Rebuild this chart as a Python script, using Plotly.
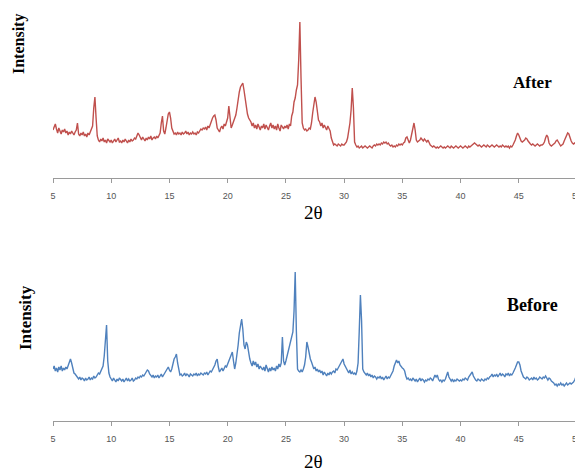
import plotly.graph_objects as go

# 2-theta sampling: start 5.0 deg, step 0.1 deg, up to 50.0 deg
theta_start = 5.0
theta_step = 0.1

after_intensity = [
    48, 52, 54, 49, 45, 50, 47, 44, 48, 46,
    49, 45, 47, 43, 46, 44, 47, 45, 43, 46,
    48, 55, 44, 42, 45, 43, 46, 42, 44, 41,
    45, 43, 46, 48, 52, 70, 81, 60, 42, 38,
    36, 39, 37, 40, 36, 38, 35, 39, 37, 36,
    38, 35, 37, 39, 36, 38, 40, 36, 37, 35,
    38, 36, 39, 37, 35, 38, 36, 39, 37, 38,
    40, 39, 42, 45, 43, 40, 38, 41, 39, 37,
    40, 38, 41, 39, 42, 38, 40, 41, 39, 42,
    40, 43, 45, 55, 62, 47, 44, 50, 58, 64,
    66, 60, 50, 46, 44, 45, 43, 46, 44, 45,
    43, 46, 44, 45, 47, 44, 46, 43, 45, 44,
    46, 44, 45, 43, 46, 45, 47, 49, 48, 50,
    49, 51, 48, 52, 50, 54, 57, 60, 62, 63,
    58, 50, 48, 46, 50, 52, 49, 54, 52, 56,
    60, 72, 58, 50, 53, 56, 58, 63, 70, 80,
    86, 91, 94, 95, 88, 78, 68, 64, 60, 58,
    56, 52, 55, 50, 53, 49, 54, 51, 48, 52,
    50, 54, 49, 53, 51, 48, 52, 55, 50, 53,
    49, 52, 48, 54, 50, 47, 53, 51, 49, 52,
    50, 53, 49, 54, 52, 62, 66, 76, 80, 88,
    93, 118, 156, 100, 55, 50, 48, 49, 47, 48,
    50, 49, 55, 65, 76, 81, 76, 64, 58, 56,
    52, 55, 50, 53, 51, 48, 52, 50, 47, 40,
    35, 33, 34, 33, 32, 34, 33, 32, 34, 33,
    33, 35, 36, 40, 46, 55, 68, 90, 70, 36,
    33, 31, 32, 30, 31, 32, 30, 31, 32, 31,
    30, 31, 32, 31, 30, 32, 33, 32, 34, 33,
    34, 33, 35, 34, 36, 35, 36, 34, 35, 33,
    32, 33, 31, 32, 31, 33, 32, 34, 33, 34,
    33, 35, 36, 40, 41, 38, 35, 38, 45, 52,
    55, 48, 38, 36, 37, 38, 40, 38, 37, 39,
    37, 36, 38, 35, 33, 32, 31, 32, 31, 30,
    31, 30, 31, 32, 31, 30, 31, 30, 31, 32,
    31, 30, 32, 31, 30, 31, 32, 31, 30, 31,
    32, 31, 30, 31, 32, 31, 30, 32, 31, 32,
    33, 34, 35, 34, 33, 32, 33, 32, 31, 32,
    33, 32, 31, 33, 32, 31, 32, 33, 32, 31,
    32, 33, 32, 31, 32, 31, 33, 32, 31, 32,
    31, 32, 30, 32, 31, 33, 35, 38, 42, 45,
    43, 39, 37, 36, 37, 38, 40, 39, 37, 35,
    34, 33, 34, 33, 32, 33, 34, 33, 32, 33,
    33, 34, 36, 40, 43, 41, 35, 33, 32, 33,
    34, 35, 37, 38, 36, 33, 32, 33, 34, 37,
    40, 43, 45, 44, 40, 37, 35, 34, 35, 34,
    35,
]

before_intensity = [
    52, 55, 50, 53, 49, 54, 51, 55, 50, 53,
    51, 54, 52, 55, 57, 62, 58, 52, 48, 47,
    45, 43, 42, 44, 41, 43, 42, 40, 43, 41,
    42, 44, 41, 43, 42, 45, 43, 44, 46, 48,
    47, 50, 52, 55, 65, 85, 96, 60, 48, 44,
    42, 40, 43, 41, 39, 42, 40, 43, 41, 40,
    42, 39, 41, 43, 40, 42, 40, 41, 43, 40,
    41, 43, 42, 44, 43, 45, 44, 46, 45, 48,
    49, 51, 50, 47, 45, 44, 46, 43, 45, 44,
    46, 43, 45, 47, 44, 46, 48, 50, 53, 54,
    51, 49, 52, 58, 62, 64, 67, 58, 50, 46,
    47, 45, 46, 48, 45, 47, 46, 44, 47, 46,
    45, 47, 46, 48, 45, 47, 46, 48, 47, 46,
    48, 47, 49, 46, 48, 50, 49, 51, 53, 56,
    60, 62, 54, 49, 51, 53, 50, 52, 55, 54,
    57, 60, 63, 67, 69, 60, 52, 58, 66, 76,
    88, 98, 102, 92, 76, 72, 79, 76, 68, 62,
    58, 55, 60, 56, 59, 54, 57, 52, 55, 53,
    51, 54, 50, 56, 52, 49, 53, 50, 54, 51,
    53, 50, 55, 52, 57, 54, 58, 84, 60, 56,
    60, 65, 70, 76, 80, 86, 89, 110, 149, 90,
    52, 50, 49, 51, 49, 52, 56, 64, 79, 74,
    66, 62, 59, 55, 52, 54, 50, 52, 49, 51,
    48, 50, 46, 49, 47, 45, 48, 46, 49, 47,
    49, 50, 48, 52, 51, 53, 55, 58, 60, 62,
    57, 55, 52, 50, 48, 51, 47, 49, 47, 48,
    46, 50, 58, 90, 126, 100, 52, 49, 47, 46,
    48, 45, 47, 44, 46, 43, 45, 44, 42, 44,
    43, 45, 42, 44, 41, 43, 45, 42, 44, 43,
    45, 47, 50, 55, 59, 61, 58, 60, 56, 54,
    53, 52, 50, 45, 42, 43, 41, 42, 40, 43,
    41, 40, 42, 39, 41, 43, 40, 42, 41, 39,
    41, 40, 42, 41, 43, 42, 40, 43, 46, 44,
    46, 42, 40, 41, 39, 41, 40, 42, 46, 49,
    44, 41, 40, 42, 39, 41, 40, 42, 41, 40,
    41, 40, 42, 41, 43, 42, 41, 44, 46, 48,
    49, 45, 42, 41, 40, 42, 41, 40, 42, 41,
    40, 42, 41, 43, 42, 44, 45, 47, 44, 46,
    45, 47, 44, 46, 48, 45, 47, 46, 44, 47,
    46, 48, 45, 47, 46, 48, 50, 53, 56, 59,
    59, 56, 50, 46, 44, 43, 42, 44, 43, 41,
    42, 43, 41, 44, 42, 43, 41, 42, 44, 43,
    42, 44, 43, 45, 42, 41, 43, 42, 40, 39,
    38, 36, 37, 35, 37, 36, 38, 36, 37, 35,
    37, 38, 36, 37, 38, 37, 38, 39, 41, 44,
    59,
]

tick_values = [5, 10, 15, 20, 25, 30, 35, 40, 45, 50]
tick_labels = ["5", "10", "15", "20", "25", "30", "35", "40", "45", "50"]

# The page body has an 8px margin, so the figure is shrunk and coordinates shifted
OFF = 8
W, H = 583 - OFF, 472 - OFF
ML = 53 - OFF
MR = W - (577 - OFF)
MT = 10 - OFF
MB = H - (421 - OFF)
PW, PH = W - ML - MR, H - MT - MB


def px(x):
    return (x - OFF - ML) / PW


def py(y):
    return (H - MB - (y - OFF)) / PH


fig = go.Figure()
fig.add_trace(go.Scatter(y=after_intensity, x0=theta_start, dx=theta_step,
                         mode="lines", line=dict(color="#c0504d", width=1.4),
                         xaxis="x", yaxis="y", showlegend=False))
fig.add_trace(go.Scatter(y=before_intensity, x0=theta_start, dx=theta_step,
                         mode="lines", line=dict(color="#4f81bd", width=1.4),
                         xaxis="x2", yaxis="y2", showlegend=False))

xcommon = dict(range=[5, 50], tickmode="array", tickvals=tick_values, ticktext=tick_labels,
               showline=True, linecolor="#9a9a9a", linewidth=1, ticks="outside",
               ticklen=4, tickcolor="#9a9a9a", showgrid=False, zeroline=False,
               ticklabeloverflow="allow", ticklabelstandoff=5,
               tickfont=dict(family="Liberation Sans", size=9, color="#555555"),
               domain=[0, 1])

top_bottom = py(178)
bot_top = py(265)

fig.update_layout(
    width=W, height=H,
    margin=dict(l=ML, r=MR, t=MT, b=MB),
    paper_bgcolor="white", plot_bgcolor="white",
    xaxis=dict(anchor="y", **xcommon),
    xaxis2=dict(anchor="y2", **xcommon),
    yaxis=dict(domain=[top_bottom, 1], range=[0, 168], visible=False),
    yaxis2=dict(domain=[0, bot_top], range=[0, 156], visible=False),
)

serif = "Liberation Serif"
annots = [
    dict(text="<b>Intensity</b>", x=px(19), y=py(44), textangle=-90, size=16),
    dict(text="<b>Intensity</b>", x=px(25), y=py(318), textangle=-90, size=17),
    dict(text="<b>After</b>", x=px(532), y=py(82), textangle=0, size=17),
    dict(text="<b>Before</b>", x=px(532), y=py(305), textangle=0, size=18),
    dict(text="2θ", x=px(313), y=py(213), textangle=0, size=19),
    dict(text="2θ", x=px(313), y=py(461), textangle=0, size=19),
]
for a in annots:
    fig.add_annotation(text=a["text"], x=a["x"], y=a["y"], xref="paper", yref="paper",
                       xanchor="center", yanchor="middle", showarrow=False,
                       textangle=a["textangle"],
                       font=dict(family=serif, size=a["size"], color="black"))

fig.write_html("out.html")
